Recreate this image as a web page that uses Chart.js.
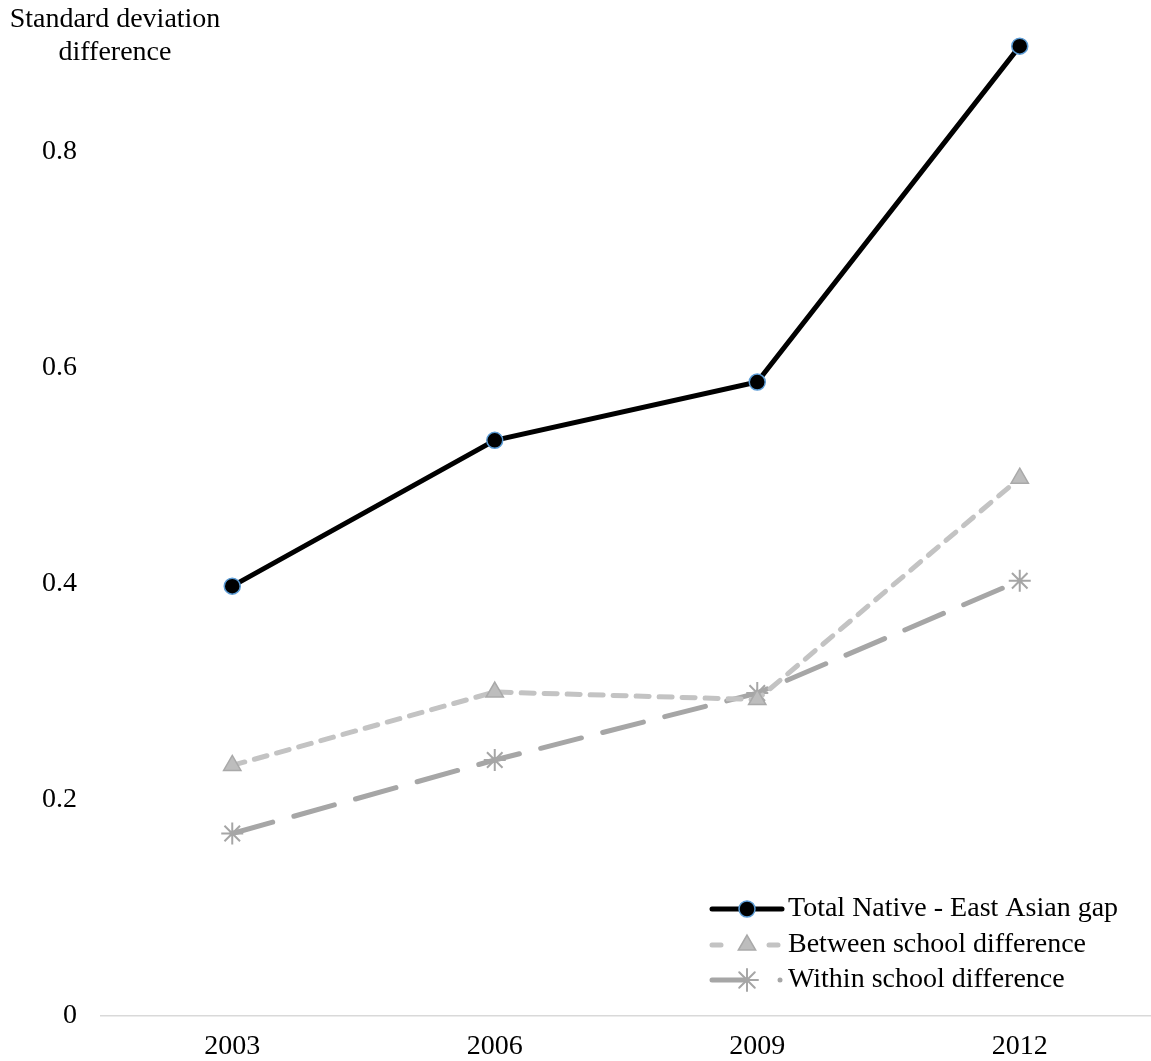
<!DOCTYPE html>
<html>
<head>
<meta charset="utf-8">
<script src="https://cdn.jsdelivr.net/npm/chart.js@4/dist/chart.umd.min.js"></script>
<style>
  html, body { margin: 0; background: #fff; overflow: hidden; }
  /* Chart.jsが右側に余白を取るので、その分だけ幅を広げる */
  #wrap { width: 1164px; height: 1061px; }
  canvas { display: block; }
</style>
</head>
<body>
<div id="wrap"><canvas id="gapChart"></canvas></div>
<script>
  var years = ['2003', '2006', '2009', '2012'];
  var totalGap = [0.398, 0.533, 0.587, 0.898];
  var betweenSchool = [0.232, 0.300, 0.293, 0.498];
  var withinSchool = [0.169, 0.237, 0.299, 0.403];
  var yTicks = [0, 0.2, 0.4, 0.6, 0.8];
  var yTitle = ['Standard deviation', 'difference'];

  var serif = '"Liberation Serif", "Times New Roman", serif';
  Chart.defaults.font.family = serif;
  Chart.defaults.font.size = 28;
  Chart.defaults.color = '#000';

  // y軸タイトルと凡例は手描き（Excel風の配置）
  var extras = {
    id: 'extras',
    afterDraw: function(chart) {
      var ctx = chart.ctx;
      ctx.save();
      ctx.font = '28px ' + serif;
      ctx.fillStyle = '#000';
      ctx.textAlign = 'center';
      ctx.textBaseline = 'middle';
      ctx.fillText(yTitle[0], 115, 20);
      ctx.fillText(yTitle[1], 115, 53);

      var items = chart.data.datasets;
      var x0 = 712, x1 = 782, xm = 747, tx = 788;
      var rows = [909, 945, 980];
      items.forEach(function(ds, i) {
        var y = rows[i];
        ctx.save();
        ctx.strokeStyle = ds.borderColor;
        ctx.lineWidth = ds.borderWidth;
        ctx.lineCap = 'round';
        if (i === 0) {
          ctx.beginPath(); ctx.moveTo(x0, y); ctx.lineTo(x1, y); ctx.stroke();
        } else if (i === 1) {
          ctx.beginPath(); ctx.moveTo(x0, y); ctx.lineTo(x0 + 9, y); ctx.stroke();
          ctx.beginPath(); ctx.moveTo(x1 - 13, y); ctx.lineTo(x1 - 4, y); ctx.stroke();
        } else {
          ctx.beginPath(); ctx.moveTo(x0, y); ctx.lineTo(xm, y); ctx.stroke();
          ctx.fillStyle = ds.borderColor;
          ctx.beginPath(); ctx.arc(x1 - 2, y, 2.5, 0, Math.PI * 2); ctx.fill();
        }
        ctx.fillStyle = ds.pointBackgroundColor;
        ctx.strokeStyle = ds.pointBorderColor;
        ctx.lineWidth = ds.pointBorderWidth;
        Chart.helpers.drawPoint(ctx, {
          pointStyle: ds.pointStyle,
          radius: ds.pointRadius,
          borderWidth: ds.pointBorderWidth,
          rotation: 0
        }, xm, y);
        ctx.restore();
        ctx.fillStyle = '#000';
        ctx.textAlign = 'left';
        ctx.fillText(ds.label, tx, y);
      });
      ctx.restore();
    }
  };

  var ctx = document.getElementById('gapChart').getContext('2d');
  var gapChart = new Chart(ctx, {
    type: 'line',
    data: {
      labels: years,
      datasets: [
        {
          label: 'Total Native - East Asian gap',
          data: totalGap,
          borderColor: '#000',
          borderWidth: 5,
          pointStyle: 'circle',
          pointRadius: 8,
          pointBorderWidth: 1.5,
          pointBackgroundColor: '#000',
          pointBorderColor: '#5b9bd5',
          clip: false
        },
        {
          label: 'Between school difference',
          data: betweenSchool,
          borderColor: '#c3c3c3',
          borderWidth: 5,
          borderDash: [13, 10],
          borderCapStyle: 'round',
          pointStyle: 'triangle',
          pointRadius: 10,
          pointBorderWidth: 1.5,
          pointBackgroundColor: '#bdbdbd',
          pointBorderColor: '#a9a9a9',
          clip: false
        },
        {
          label: 'Within school difference',
          data: withinSchool,
          borderColor: '#a6a6a6',
          borderWidth: 5,
          borderDash: [42, 22],
          borderCapStyle: 'round',
          pointStyle: 'star',
          pointRadius: 11,
          pointBorderWidth: 2,
          pointBackgroundColor: '#a6a6a6',
          pointBorderColor: '#a6a6a6',
          clip: false
        }
      ]
    },
    options: {
      responsive: true,
      maintainAspectRatio: false,
      animation: false,
      layout: { padding: { top: 44, right: 0, left: 0, bottom: 0 } },
      plugins: {
        legend: { display: false },
        tooltip: { enabled: false }
      },
      scales: {
        x: {
          offset: true,
          grid: { display: false, drawTicks: false, offset: true },
          border: { display: true, color: '#d9d9d9', width: 1.5 },
          ticks: { padding: 14 },
          afterFit: function(s) { s.height = 45; }
        },
        y: {
          min: 0,
          max: 0.9,
          grid: { display: false, drawTicks: false },
          border: { display: false },
          ticks: { padding: 24, stepSize: 0.2 },
          afterBuildTicks: function(s) {
            s.ticks = yTicks.map(function(v) { return { value: v }; });
          },
          afterFit: function(s) { s.width = 101; }
        }
      }
    },
    plugins: [extras]
  });
</script>
</body>
</html>
